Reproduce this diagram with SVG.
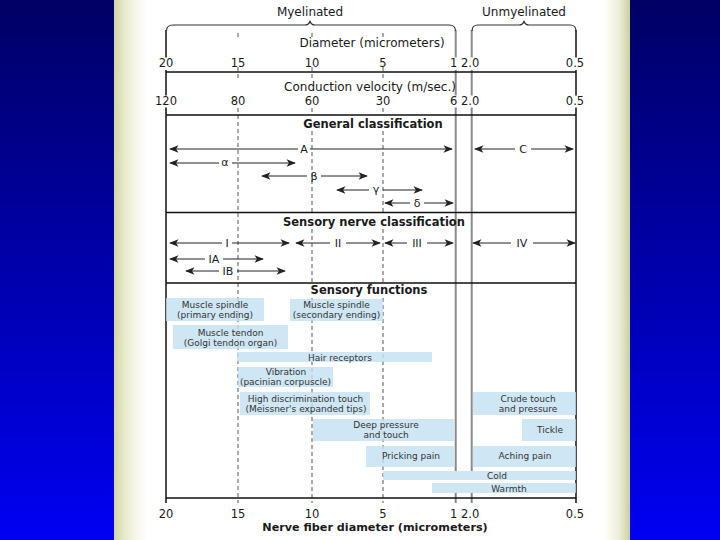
<svg xmlns="http://www.w3.org/2000/svg" width="720" height="540" viewBox="0 0 720 540">
<defs>
<linearGradient id="bg" x1="0" y1="0" x2="0" y2="1"><stop offset="0" stop-color="#000064"/><stop offset="1" stop-color="#0000f2"/></linearGradient>
<linearGradient id="panel" x1="0" y1="0" x2="1" y2="0">
<stop offset="0" stop-color="#d2d6a4"/>
<stop offset="0.02" stop-color="#e6e9cc"/>
<stop offset="0.045" stop-color="#f8f9ee"/>
<stop offset="0.065" stop-color="#ffffff"/>
<stop offset="0.95" stop-color="#ffffff"/>
<stop offset="0.98" stop-color="#ebecd6"/>
<stop offset="1" stop-color="#cbcf9f"/>
</linearGradient>
<marker id="ah" viewBox="0 0 10 8" refX="9" refY="4" markerWidth="10" markerHeight="7.5" markerUnits="userSpaceOnUse" orient="auto-start-reverse"><path d="M0,0 L10,4 L0,8 L2.5,4 z" fill="#222"/></marker>
</defs>
<style>
.t{font-family:"DejaVu Sans","Liberation Sans",sans-serif;fill:#1a1a1a}
.c{text-anchor:middle}
.num{font-size:11.5px}
.ttl{font-size:12px}
.hd{font-size:11.5px;font-weight:bold}
.lab{font-size:11px}
.bt{font-size:9px;fill:#333;text-anchor:middle}
.frame{stroke:#111;stroke-width:1.5;fill:none}
.gray{stroke:#8a8a8a;stroke-width:2;fill:none}
.dash{stroke:#555;stroke-width:1;stroke-dasharray:4 3;fill:none}
.arr{stroke:#222;stroke-width:1;fill:none;marker-start:url(#ah);marker-end:url(#ah)}
.box{fill:#c3e0f1;fill-opacity:0.8}
.brace{stroke:#333;stroke-width:1.2;fill:none}
</style>
<rect x="0" y="0" width="720" height="540" fill="url(#bg)"/>
<rect x="114" y="0" width="516" height="540" fill="url(#panel)"/>

<g id="grid">
<path class="dash" d="M238,33 V38 M238,67 V78 M238,108 V503"/>
<path class="dash" d="M312,33 V37 M312,67 V78 M312,108 V115 M312,131 V212.5 M312,229 V283 M312,298 V503"/>
<path class="dash" d="M383,33 V37 M383,67 V78 M383,108 V115 M383,131 V212.5 M383,229 V283 M383,298 V503"/>
<path class="gray" d="M455.7,30 V57.5 M455.7,70 V95.5 M455.7,107.5 V471 M455.7,493 V503"/>
<path class="gray" d="M471.7,30 V57.5 M471.7,70 V95.5 M471.7,107.5 V471 M471.7,493 V503"/>
<path class="frame" d="M166,30 V57.5 M166,70 V95.5 M166,107.5 V503"/>
<path class="frame" d="M576,30 V57.5 M576,70 V95.5 M576,107.5 V503"/>
<path class="frame" d="M166,72 H576 M166,115 H576 M166,212.5 H576 M166,283 H576 M166,498 H576"/>
<path class="brace" d="M166.5,31 Q166.5,25 173,25 L305,25 Q309,25 310,21 Q311,25 315,25 L449,25 Q455.5,25 455.5,31"/>
<path class="brace" d="M472,31 Q472,25 478,25 L519,25 Q523,25 524,21 Q525,25 529,25 L570,25 Q576,25 576,31"/>
</g>

<g id="scales">
<text class="t c ttl" x="310" y="16">Myelinated</text>
<text class="t c ttl" x="524" y="16">Unmyelinated</text>
<text class="t c ttl" x="372" y="47">Diameter (micrometers)</text>
<text class="t c num" x="166" y="67">20</text>
<text class="t c num" x="238" y="67">15</text>
<text class="t c num" x="312" y="67">10</text>
<text class="t c num" x="383" y="67">5</text>
<text class="t num" x="450" y="67">1 2.0</text>
<text class="t c num" x="575" y="67">0.5</text>
<text class="t c ttl" x="370" y="91">Conduction velocity (m/sec.)</text>
<text class="t c num" x="166" y="105">120</text>
<text class="t c num" x="238" y="105">80</text>
<text class="t c num" x="312" y="105">60</text>
<text class="t c num" x="383" y="105">30</text>
<text class="t num" x="450" y="105">6 2.0</text>
<text class="t c num" x="575" y="105">0.5</text>
<text class="t c hd" x="373" y="128">General classification</text>
<text class="t c hd" x="374" y="226">Sensory nerve classification</text>
<text class="t c hd" x="369" y="294">Sensory functions</text>
<text class="t c num" x="166" y="518">20</text>
<text class="t c num" x="238" y="518">15</text>
<text class="t c num" x="312" y="518">10</text>
<text class="t c num" x="383" y="518">5</text>
<text class="t num" x="450" y="518">1 2.0</text>
<text class="t c num" x="575" y="518">0.5</text>
<text class="t c hd" x="375" y="531" style="font-size:11.2px">Nerve fiber diameter (micrometers)</text>
</g>

<g id="connectors">
<path class="arr" d="M170,149 H298 M310,149 H452"/>
<text class="t c lab" x="304" y="153">A</text>
<path class="arr" d="M170,163 H219 M232,163 H295"/>
<text class="t c lab" x="225" y="166">α</text>
<path class="arr" d="M262,176 H307 M321,176 H367"/>
<text class="t c lab" x="314" y="179.5">β</text>
<path class="arr" d="M337,190 H369 M383,190 H422"/>
<text class="t c lab" x="376" y="193">γ</text>
<path class="arr" d="M385,203 H410 M424,203 H453"/>
<text class="t c lab" x="417" y="207">δ</text>
<path class="arr" d="M475,149 H515 M531,149 H573"/>
<text class="t c lab" x="523" y="153">C</text>
<path class="arr" d="M170,243 H222 M232,243 H289"/>
<text class="t c lab" x="227" y="247">I</text>
<path class="arr" d="M296,243 H330 M346,243 H380"/>
<text class="t c lab" x="338" y="247">II</text>
<path class="arr" d="M385,243 H407 M427,243 H453"/>
<text class="t c lab" x="417" y="247">III</text>
<path class="arr" d="M473,243 H511 M533,243 H575"/>
<text class="t c lab" x="522" y="247">IV</text>
<path class="arr" d="M170,259 H205 M223,259 H263"/>
<text class="t c lab" x="214" y="263">IA</text>
<path class="arr" d="M186,271 H219 M237,271 H285"/>
<text class="t c lab" x="228" y="275">IB</text>
</g>

<g id="fn-spindle-primary"><rect class="box" x="166" y="298" width="98" height="23"/>
<text class="t bt" x="215" y="307.5">Muscle spindle</text><text class="t bt" x="215" y="318">(primary ending)</text></g>
<g id="fn-spindle-secondary"><rect class="box" x="290" y="299" width="93" height="22"/>
<text class="t bt" x="336.5" y="307.5">Muscle spindle</text><text class="t bt" x="336.5" y="318">(secondary ending)</text></g>
<g id="fn-tendon"><rect class="box" x="173" y="325" width="115" height="24"/>
<text class="t bt" x="230.5" y="335.5">Muscle tendon</text><text class="t bt" x="230.5" y="346">(Golgi tendon organ)</text></g>
<g id="fn-hair"><rect class="box" x="237" y="352" width="195" height="10"/>
<text class="t bt" x="340" y="360.5">Hair receptors</text></g>
<g id="fn-vibration"><rect class="box" x="238" y="367" width="95" height="20"/>
<text class="t bt" x="286" y="374.5">Vibration</text><text class="t bt" x="285.5" y="384.5">(pacinian corpuscle)</text></g>
<g id="fn-high-touch"><rect class="box" x="240" y="392" width="130" height="23"/>
<text class="t bt" x="305.5" y="402">High discrimination touch</text><text class="t bt" x="306" y="412">(Meissner's expanded tips)</text></g>
<g id="fn-deep-pressure"><rect class="box" x="313" y="419" width="141" height="22"/>
<text class="t bt" x="386" y="427.5">Deep pressure</text><text class="t bt" x="386" y="437.5">and touch</text></g>
<g id="fn-pricking"><rect class="box" x="366" y="446" width="88" height="21"/>
<text class="t bt" x="411" y="458.5">Pricking pain</text></g>
<g id="fn-crude-touch"><rect class="box" x="473" y="392" width="103" height="23"/>
<text class="t bt" x="528" y="402">Crude touch</text><text class="t bt" x="528" y="412">and pressure</text></g>
<g id="fn-tickle"><rect class="box" x="522" y="419" width="54" height="22"/>
<text class="t bt" x="550" y="433">Tickle</text></g>
<g id="fn-aching"><rect class="box" x="473" y="446" width="103" height="21"/>
<text class="t bt" x="525" y="458.5">Aching pain</text></g>
<g id="fn-cold"><rect class="box" x="383" y="471" width="193" height="9"/>
<text class="t bt" x="497" y="478.8">Cold</text></g>
<g id="fn-warmth"><rect class="box" x="432" y="483" width="144" height="10"/>
<text class="t bt" x="509" y="491.5">Warmth</text></g>
</svg>
